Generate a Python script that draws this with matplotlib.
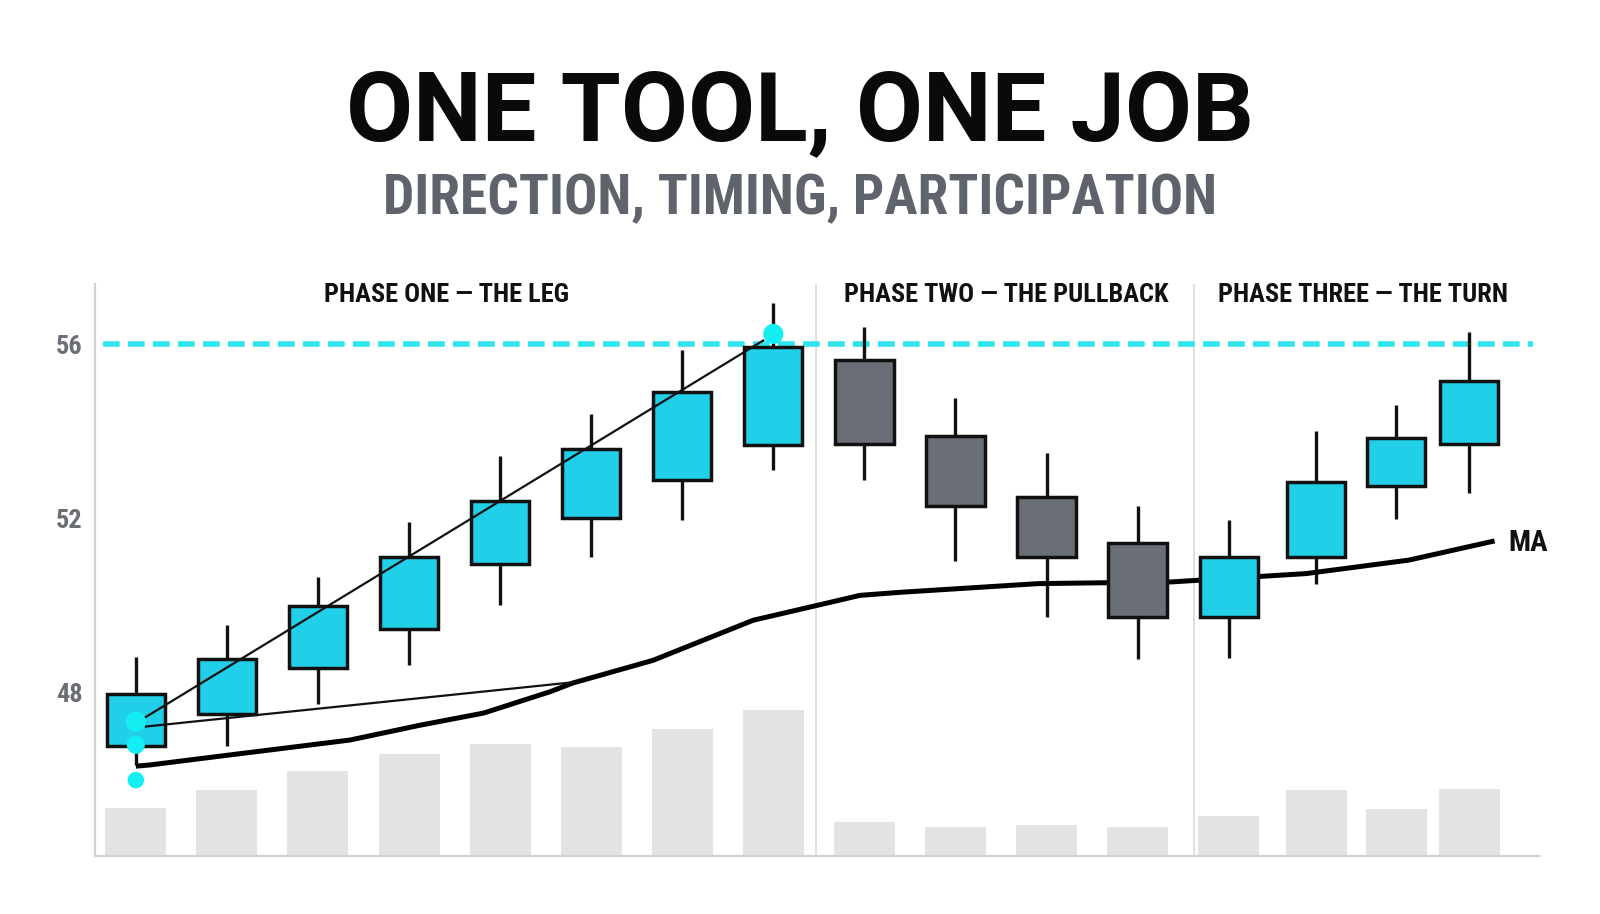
import numpy as np
import matplotlib.pyplot as plt
from matplotlib import font_manager

# candle positions (phase three candles are bunched a little closer)
xpos = [0, 1, 2, 3, 4, 5, 6, 7, 8, 9, 10, 11, 12, 12.96, 13.84, 14.64]
opens = [46.78, 47.51, 48.58, 49.47, 50.97, 52.02, 52.89, 53.68,
         55.65, 53.89, 52.49, 51.44, 49.75, 51.13, 52.74, 53.72]
highs = [48.82, 49.57, 50.67, 51.93, 53.45, 54.41, 55.88, 56.96,
         56.40, 54.76, 53.50, 52.30, 51.98, 54.01, 54.60, 56.28]
lows = [46.34, 46.78, 47.74, 48.65, 50.03, 51.13, 51.98, 53.12,
        52.89, 51.04, 49.75, 48.77, 48.80, 50.51, 52.00, 52.60]
closes = [47.98, 48.77, 49.99, 51.13, 52.40, 53.61, 54.90, 55.93,
          53.71, 52.30, 51.11, 49.75, 51.13, 52.84, 53.86, 55.16]
volume = [4.7, 6.5, 8.3, 10.0, 11.0, 10.7, 12.5, 14.3,
          3.3, 2.8, 3.0, 2.8, 3.9, 6.5, 4.6, 6.6]

# moving average
ma_x = [0.0, 0.16, 1.0, 2.35, 3.12, 3.82, 4.55, 4.80, 5.68, 6.78, 7.48,
        7.95, 8.39, 9.91, 11.38, 12.85, 13.98, 14.92]
ma_y = [46.32, 46.35, 46.57, 46.92, 47.26, 47.54, 48.03, 48.23, 48.75, 49.67,
        50.01, 50.24, 50.31, 50.51, 50.55, 50.74, 51.05, 51.49]

level = 56
dividers = [7.47, 11.62]
phases = ["PHASE ONE \u2014 THE LEG", "PHASE TWO \u2014 THE PULLBACK", "PHASE THREE \u2014 THE TURN"]
phase_x = [3.41, 9.56, 13.47]

# annotation lines and dots
trend_x = [0.11, 6.89]
trend_y = [47.45, 56.09]
link_x = [0.11, 4.82]
link_y = [47.23, 48.25]
dot_x = [0, 0, 0, 7]
dot_y = [47.34, 46.81, 46.00, 56.24]
dot_s = [210, 170, 140, 210]

BULL = "#22cfe8"
BEAR = "#6a6e76"
EDGE = "#111111"
CYAN = "#2fe4ec"
GRAY_TXT = "#5f636b"

names = {f.name for f in font_manager.fontManager.ttflist}
narrow = next((n for n in ["Roboto Condensed", "Liberation Sans Narrow"] if n in names), "Roboto")
plt.rcParams["font.family"] = ["Roboto", "DejaVu Sans"]

fig = plt.figure(figsize=(16, 9.14), dpi=100)
ax = fig.add_axes([0.0594, 0.0635, 0.9026, 0.6255])
axv = ax.twinx()
ax.set_zorder(2)
axv.set_zorder(1)
ax.patch.set_visible(False)

# volume
axv.bar(xpos, volume, width=0.67, color="#e2e3e5", zorder=1)
axv.set_ylim(0, 56.1)
axv.axis("off")

# candles
for x, o, h, l, c in zip(xpos, opens, highs, lows, closes):
    col = BULL if c >= o else BEAR
    ax.vlines(x, l, h, color=EDGE, lw=2.4, zorder=2)
    ax.bar(x, abs(c - o), bottom=min(o, c), width=0.64, color=col,
           edgecolor=EDGE, linewidth=2.5, zorder=4)

ax.plot(ma_x, ma_y, color="#000000", lw=3.6, solid_capstyle="butt", zorder=3)
ax.text(15.07, 51.25, "MA", family=narrow, fontweight="bold", fontsize=21,
        color="#111111", ha="left", va="baseline")

ax.hlines(level, -0.36, 15.34, color=CYAN, lw=4, linestyles=(0, (3, 1.5)), zorder=1)
for d in dividers:
    ax.axvline(d, color="#d9d9d9", lw=1.2, zorder=0.5)

ax.plot(trend_x, trend_y, color="#111111", lw=1.6, zorder=5)
ax.plot(link_x, link_y, color="#111111", lw=1.6, zorder=5)
ax.scatter(dot_x, dot_y, s=dot_s, color="#12eef2", edgecolor="none", zorder=6)

for label, px in zip(phases, phase_x):
    ax.text(px, 56.98, label, family=narrow, fontweight="bold", fontsize=19,
            color="#111111", ha="center", va="baseline")

ax.set_xlim(-0.448, 15.41)
ax.set_ylim(44.26, 57.38)
ax.set_yticks([48, 52, 56])
ax.set_xticks([])
ax.tick_params(axis="y", length=0, pad=9)
for t in ax.get_yticklabels():
    t.set_family(narrow)
    t.set_fontweight("bold")
    t.set_fontsize(19)
    t.set_color("#6b6e75")
for s in ["top", "right"]:
    ax.spines[s].set_visible(False)
for s in ["left", "bottom"]:
    ax.spines[s].set_color("#d2d2d2")
    ax.spines[s].set_linewidth(1.6)

fig.text(0.5, 0.8468, "ONE TOOL, ONE JOB", fontsize=70, fontweight="bold",
         color="#0a0a0a", ha="center", va="baseline")
fig.text(0.5, 0.7659, "DIRECTION, TIMING, PARTICIPATION", family=narrow,
         fontsize=40, fontweight="bold", color=GRAY_TXT, ha="center", va="baseline")

fig.savefig("out.png", dpi=100, facecolor="white")
